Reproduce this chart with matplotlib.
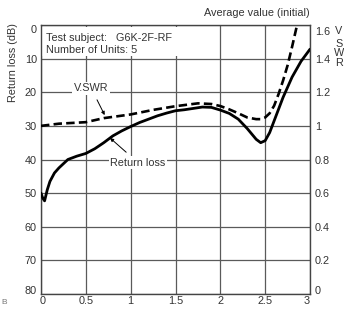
import matplotlib
matplotlib.use("Agg")
import matplotlib.pyplot as plt
import matplotlib.transforms as mtransforms
from matplotlib.patches import Rectangle

plt.rcParams["font.family"] = ["Liberation Sans", "DejaVu Sans"]

# return loss (dB) vs frequency (GHz)
freq_rl = [0, 0.02, 0.04, 0.07, 0.1, 0.15, 0.2, 0.3, 0.4, 0.5, 0.6, 0.7, 0.8, 0.9, 1.0,
           1.1, 1.2, 1.3, 1.4, 1.5, 1.6, 1.7, 1.8, 1.9, 2.0, 2.1, 2.2, 2.3, 2.4, 2.45,
           2.5, 2.55, 2.6, 2.7, 2.8, 2.9, 3.0]
return_loss = [50, 51.5, 52.3, 49, 46.5, 44, 42.5, 40, 39, 38.2, 36.8, 35, 33, 31.5, 30.2,
               29, 28, 27, 26.2, 25.5, 25.2, 24.8, 24.4, 24.5, 25.3, 26.3, 28, 30.8, 34, 35,
               34.4, 32, 28.5, 21.5, 15.5, 10.8, 7.2]

# V.SWR vs frequency
freq_vswr = [0, 0.2, 0.5, 0.7, 1.0, 1.25, 1.5, 1.75, 1.9, 2.0, 2.1, 2.2, 2.3, 2.4, 2.45,
             2.5, 2.55, 2.6, 2.65, 2.7, 2.75, 2.8, 2.86]
vswr = [1.0, 1.013, 1.022, 1.046, 1.068, 1.095, 1.117, 1.134, 1.13, 1.118, 1.098, 1.075,
        1.05, 1.04, 1.04, 1.05, 1.075, 1.12, 1.19, 1.27, 1.36, 1.47, 1.61]

x_ticks = [0, 0.5, 1, 1.5, 2, 2.5, 3]
x_labels = ["0", "0.5", "1", "1.5", "2", "2.5", "3"]
rl_ticks = [0, 10, 20, 30, 40, 50, 60, 70, 80]
vswr_ticks = [0, 0.2, 0.4, 0.6, 0.8, 1.0, 1.2, 1.4, 1.6]
vswr_labels = ["0", "0.2", "0.4", "0.6", "0.8", "1", "1.2", "1.4", "1.6"]

TXT = "#333333"
GRID = "#5a5a5a"
FS = 7.8

fig = plt.figure(figsize=(3.44, 3.26), dpi=100)
ax = fig.add_axes([41 / 344, 1 - 294 / 326, 269 / 344, 269 / 326])
ax.set_xlim(0, 3)
ax.set_ylim(80, 0)
ax.set_xticks(x_ticks)
ax.set_xticklabels(x_labels)
ax.set_yticks(rl_ticks)
ax.tick_params(length=0, labelsize=FS, labelcolor=TXT)
ax.tick_params(axis="y", pad=3)
ax.tick_params(axis="x", pad=1.5)
ax.set_axisbelow(True)
ax.grid(True, color=GRID, lw=0.9)
for s in ax.spines.values():
    s.set_color("#444444")
    s.set_linewidth(1.0)

# white box behind the header text
ax.add_patch(Rectangle((0.01, 0.7), 1.7, 8.5, facecolor="white", edgecolor="none", zorder=1))
ax.text(0.06, 3.9, "Test subject:   G6K-2F-RF", fontsize=FS, color=TXT, va="center", zorder=4)
ax.text(0.06, 7.4, "Number of Units: 5", fontsize=FS, color=TXT, va="center", zorder=4)

ax.plot(freq_rl, return_loss, color="black", lw=2.0, zorder=3, solid_capstyle="round")

ax2 = ax.twinx()
ax2.set_ylim(0, 1.6)
ax2.set_yticks(vswr_ticks)
ax2.set_yticklabels(vswr_labels)
ax2.tick_params(length=0, labelsize=FS, labelcolor=TXT, pad=3.5)
for s in ax2.spines.values():
    s.set_visible(False)
ax2.plot(freq_vswr, vswr, color="black", lw=1.9, ls=(0, (3.2, 1.6)), zorder=3, clip_on=True)

# labels with leader lines
ax.annotate("V.SWR", xy=(0.71, 26.8), xytext=(0.56, 18.8), fontsize=FS, color=TXT,
            ha="center", va="center", zorder=4,
            bbox=dict(boxstyle="square,pad=0.15", fc="white", ec="none"),
            arrowprops=dict(arrowstyle="-|>", color="black", lw=0.7, mutation_scale=5,
                            shrinkA=4, shrinkB=0))
ax.annotate("Return loss", xy=(0.77, 33.6), xytext=(1.08, 40.9), fontsize=FS, color=TXT,
            ha="center", va="center", zorder=4,
            bbox=dict(boxstyle="square,pad=0.15", fc="white", ec="none"),
            arrowprops=dict(arrowstyle="-|>", color="black", lw=0.7, mutation_scale=5,
                            shrinkA=4, shrinkB=0))

# nudge the end tick labels inward
def shift(lbl, dx, dy):
    lbl.set_transform(lbl.get_transform() +
                      mtransforms.ScaledTranslation(dx / 100, dy / 100, fig.dpi_scale_trans))

fig.canvas.draw()
yl = ax.get_yticklabels()
shift(yl[0], 0, -4)
shift(yl[-1], 0, 4)
xl = ax.get_xticklabels()
shift(xl[0], 2, 0)
shift(xl[-1], -3, 0)
yr = ax2.get_yticklabels()
shift(yr[0], 0, 4)
shift(yr[-1], 0, -6)

ax.text(1.0, 1.025, "Average value (initial)", transform=ax.transAxes, fontsize=FS,
        color=TXT, ha="right", va="bottom")
fig.text(13 / 344, 1 - 63 / 326, "Return loss (dB)", rotation=90, fontsize=FS, color=TXT,
         ha="center", va="center")
fig.text(339 / 344, 1 - 31.5 / 326, "V", fontsize=FS, color=TXT, ha="center", va="center")
fig.text(339 / 344, 1 - 53.5 / 326, "S\nW\nR", fontsize=FS, color=TXT, ha="center",
         va="center", linespacing=0.95)
fig.text(1 / 344, 1 - 303 / 326, "B", fontsize=6, color="#777777", ha="left", va="center")

fig.savefig("out.png", dpi=100, facecolor="white")
